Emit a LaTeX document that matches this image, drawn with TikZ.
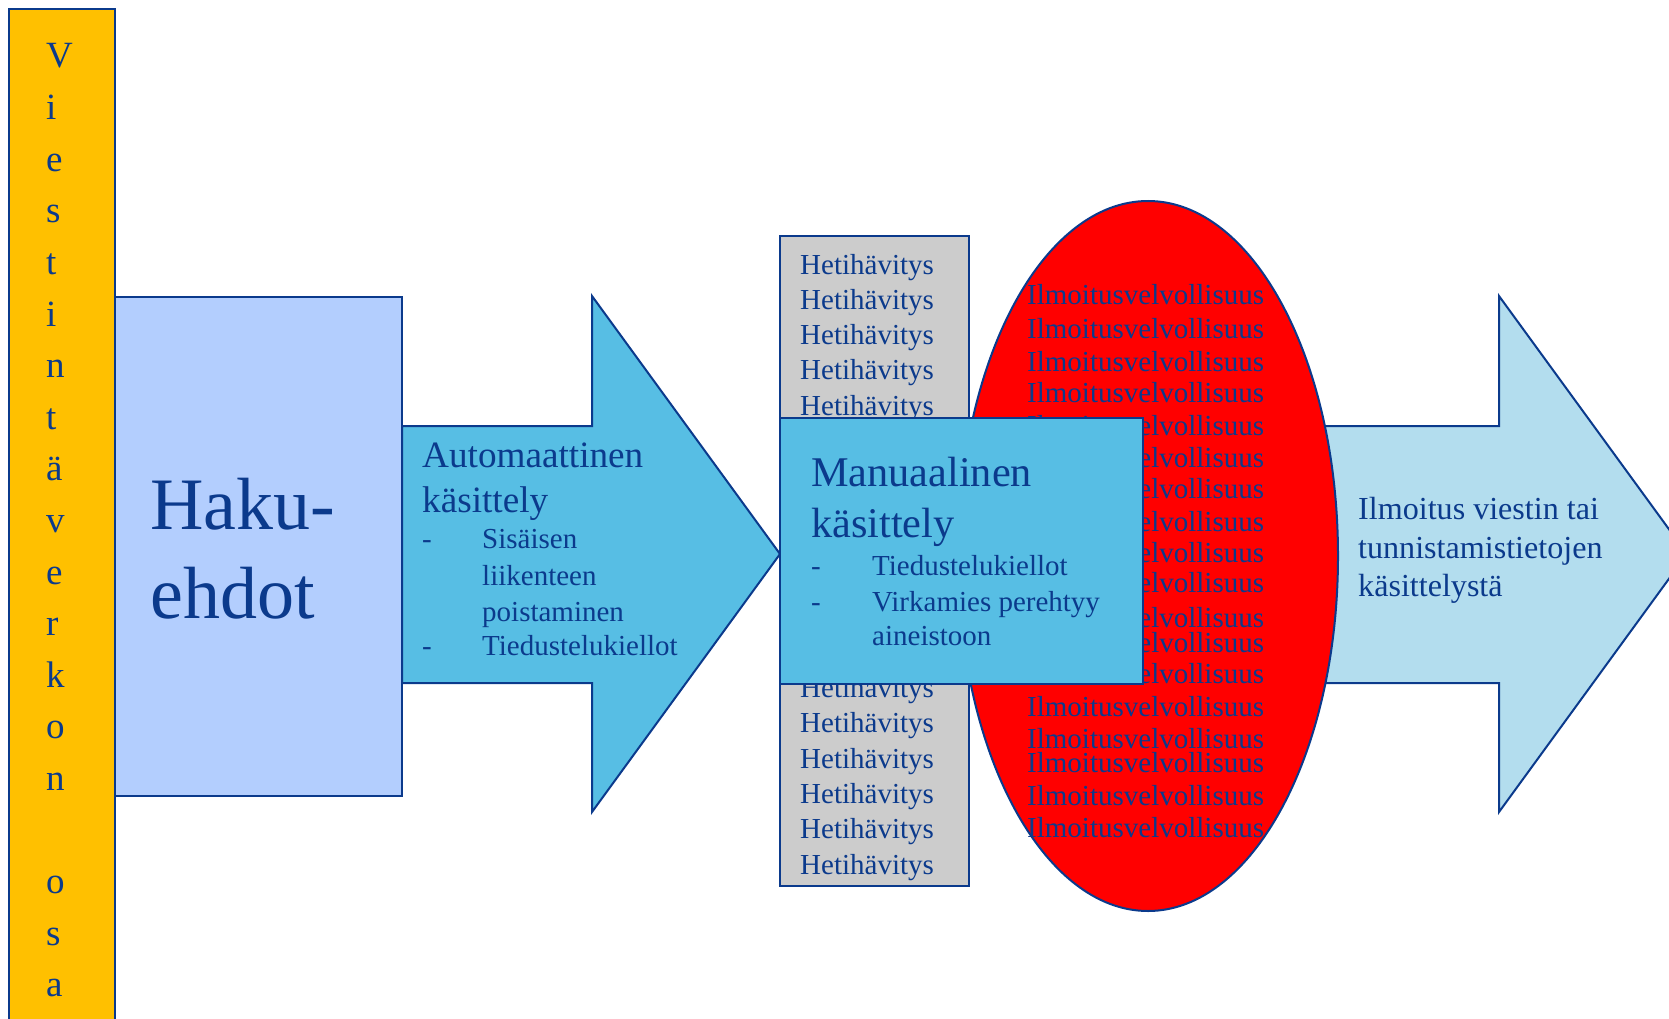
\documentclass[tikz,border=0pt]{standalone}
\usepackage{fontspec}
\setmainfont{Liberation Serif}
\usetikzlibrary{shapes.geometric}
\definecolor{navy}{HTML}{0B3A8C}
\definecolor{yellowc}{HTML}{FFC000}
\definecolor{hakuc}{HTML}{B3CEFE}
\definecolor{cyanc}{HTML}{57BEE4}
\definecolor{greyc}{HTML}{CCCCCC}
\definecolor{redc}{HTML}{FF0000}
\definecolor{lightc}{HTML}{B3DDEE}
\newcommand{\myfs}[1]{\fontsize{#1}{#1}\selectfont}
\begin{document}
\begin{tikzpicture}[x=1pt,y=-1pt,line join=miter]
\tikzset{
  frame/.style={draw=navy, line width=2pt},
  boxnode/.style={frame, anchor=north west, inner sep=0pt, outer sep=0pt},
  txt/.style={inner sep=0pt, anchor=base west, text=navy, font=\myfs{29}},
  big/.style={txt, font=\myfs{74}},
  head/.style={txt, font=\myfs{37.2}},
  mhead/.style={txt, font=\myfs{42.3}},
  rtxt/.style={txt, font=\myfs{32.1}},
  vtxt/.style={txt, font=\myfs{37}},
}
\useasboundingbox (0,0) rectangle (1669,1019);
\clip (0,0) rectangle (1669,1019);

% left yellow bar
\node[boxnode, fill=yellowc, minimum width=106pt, minimum height=1040pt] (bar) at (9,9) {};
\foreach \ch/\k in {V/0,i/1,e/2,s/3,t/4,i/5,n/6,t/7,ä/8,v/9,e/10,r/11,k/12,o/13,n/14,o/16,s/17,a/18}
  \node[vtxt] (v\k) at (46,68+51.6*\k) {\ch};

% Haku-ehdot box
\node[boxnode, fill=hakuc, minimum width=287pt, minimum height=499pt] (haku) at (115,297) {};

% automatic processing arrow
\draw[frame, fill=cyanc] (402,426) -- (592,426) -- (592,296) -- (780,554) -- (592,812) -- (592,683) -- (402,683) -- cycle;

% output arrow
\draw[frame, fill=lightc] (1250,426) -- (1499,426) -- (1499,296) -- (1687,554) -- (1499,812) -- (1499,683) -- (1250,683) -- cycle;

% grey box
\node[boxnode, fill=greyc, minimum width=189pt, minimum height=650pt] (grey) at (780,236) {};
\foreach \k in {0,...,17}
  \node[txt] (hv\k) at (800,274+35.3*\k) {Hetihävitys};

% red ellipse
\node[ellipse, frame, fill=redc, minimum width=380pt, minimum height=710pt, inner sep=0pt] (ell) at (1148,556) {};
\foreach \yy [count=\k] in {304,338,371,402,435,467,498,531,562,592,627,652,683,716,748,772,805,837}
  \node[txt] (il\k) at (1027,\yy) {Ilmoitusvelvollisuus};

% manual processing box
\node[boxnode, fill=cyanc, minimum width=363pt, minimum height=266pt] (manu) at (780,418) {};

% texts
\node[big] (hk1) at (150,529) {Haku-};
\node[big] (hk2) at (150,618) {ehdot};

\node[head] (au1) at (422,467) {Automaattinen};
\node[head] (au2) at (422,512) {käsittely};
\node[txt] (ad1) at (422,548) {-};
\node[txt] (at1) at (482,548) {Sisäisen};
\node[txt] (at2) at (482,585) {liikenteen};
\node[txt] (at3) at (482,621) {poistaminen};
\node[txt] (ad2) at (422,655) {-};
\node[txt] (at4) at (482,655) {Tiedustelukiellot};

\node[mhead] (ma1) at (811,486) {Manuaalinen};
\node[mhead] (ma2) at (811,537) {käsittely};
\node[txt] (md1) at (811,575) {-};
\node[txt] (mt1) at (872,575) {Tiedustelukiellot};
\node[txt] (md2) at (811,611) {-};
\node[txt] (mt2) at (872,611) {Virkamies perehtyy};
\node[txt] (mt3) at (872,645) {aineistoon};

\node[rtxt] (rt1) at (1358,519) {Ilmoitus viestin tai};
\node[rtxt] (rt2) at (1358,558) {tunnistamistietojen};
\node[rtxt] (rt3) at (1358,596) {käsittelystä};
\end{tikzpicture}
\end{document}
